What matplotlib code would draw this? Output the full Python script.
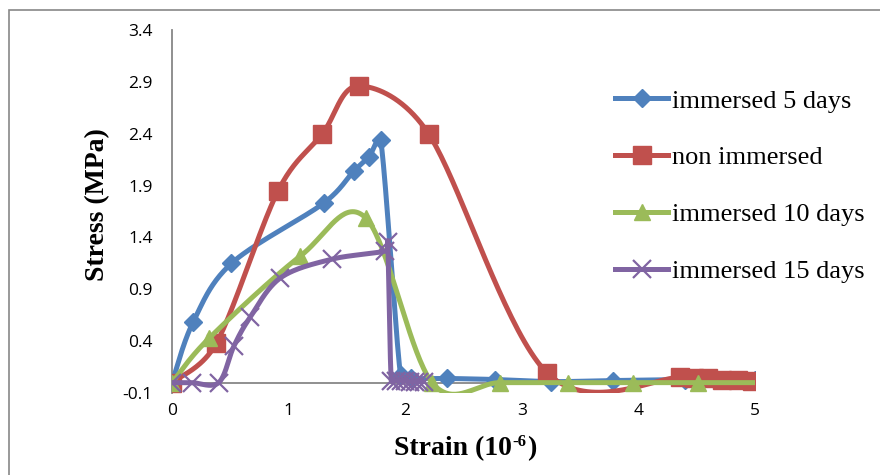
import numpy as np
import matplotlib
matplotlib.use("Agg")
import matplotlib.pyplot as plt
from matplotlib.patches import Rectangle

# ---------------- data ----------------
labels = ["immersed 5 days", "non immersed", "immersed 10 days", "immersed 15 days"]

x_5d = [0.0, 0.18, 0.51, 1.30, 1.56, 1.69, 1.79, 1.96, 2.05, 2.36, 2.77, 3.25, 3.78, 4.40, 5.00]
y_5d = [0.0, 0.58, 1.15, 1.73, 2.04, 2.18, 2.34, 0.07, 0.04, 0.04, 0.03, 0.01, 0.02, 0.03, 0.03]

x_non = [0.0, 0.38, 0.91, 1.29, 1.60, 2.20, 3.22, 4.36, 4.48, 4.60, 4.72, 4.85, 4.97]
y_non = [0.0, 0.38, 1.85, 2.40, 2.86, 2.40, 0.09, 0.05, 0.04, 0.04, 0.03, 0.03, 0.02]

x_10d = [0.0, 0.32, 1.10, 1.66, 2.23, 2.81, 3.40, 3.95, 4.51, 5.10]
y_10d = [0.0, 0.43, 1.22, 1.59, 0.0, 0.0, 0.0, 0.0, 0.0, 0.0]

x_15d = [0.0, 0.17, 0.40, 0.53, 0.67, 0.93, 1.37, 1.83, 1.85, 1.88, 1.92, 1.96, 2.00, 2.04, 2.08, 2.12, 2.16]
y_15d = [0.0, 0.0, 0.0, 0.35, 0.63, 1.01, 1.19, 1.27, 1.36, 0.02, 0.02, 0.02, 0.02, 0.01, 0.01, 0.01, 0.01]

x_ticks = [0, 1, 2, 3, 4, 5]
y_ticks = [-0.1, 0.4, 0.9, 1.4, 1.9, 2.4, 2.9, 3.4]

colors = ["#4F81BD", "#C0504D", "#9BBB59", "#8064A2"]

# pixel scale of the data units (used only to measure distances for smoothing)
SX, SY = 116.6, 103.7


def smooth(xs, ys, n=40):
    """Excel-like smoothed line: cubic Bezier, Catmull-Rom tangents,
    control offsets limited to half of the segment length."""
    p = np.column_stack([np.asarray(xs, float) * SX, np.asarray(ys, float) * SY])
    out = []
    for i in range(len(p) - 1):
        p0 = p[i - 1] if i > 0 else p[i]
        p1, p2 = p[i], p[i + 1]
        p3 = p[i + 2] if i + 2 < len(p) else p[i + 1]
        seg_len = np.hypot(*(p2 - p1))
        o1 = (p2 - p0) / 6.0
        o2 = (p3 - p1) / 6.0
        for o in (o1, o2):
            m = np.hypot(*o)
            if m > 0.5 * seg_len and m > 0:
                o *= 0.5 * seg_len / m
        c1 = p1 + o1
        c2 = p2 - o2
        t = np.linspace(0, 1, n)[:, None]
        seg = ((1 - t) ** 3) * p1 + 3 * ((1 - t) ** 2) * t * c1 + 3 * (1 - t) * t ** 2 * c2 + t ** 3 * p2
        out.append(seg if i == 0 else seg[1:])
    s = np.vstack(out)
    return s[:, 0] / SX, s[:, 1] / SY


fig = plt.figure(figsize=(8.8, 4.75), dpi=100)
fig.patch.set_facecolor("white")

# outer chart border
fig.patches.append(Rectangle((9 / 880, -0.2), 1.2, 1 - 10 / 475 + 0.2, transform=fig.transFigure,
                             fill=False, edgecolor="#878787", linewidth=1.2))

ax = fig.add_axes([172 / 880, 1 - 393 / 475, 583 / 880, 363 / 475])
ax.set_xlim(0, 5)
ax.set_ylim(-0.1, 3.4)

series = [
    (x_5d, y_5d, "D", 9.0, 1.0),
    (x_non, y_non, "s", 12.5, 1.0),
    (x_10d, y_10d, "^", 12.0, 1.0),
    (x_15d, y_15d, "x", 12.5, 1.6),
]

handles = []
for (xs, ys, mk, ms, mew), c, lab in zip(series, colors, labels):
    sx, sy = smooth(xs, ys)
    ax.plot(sx, sy, color=c, lw=3.6, solid_capstyle="butt", zorder=3)
    ax.plot(xs, ys, ls="none", marker=mk, ms=ms, mfc=c, mec=c, mew=mew, zorder=3)
    h, = ax.plot([], [], color=c, lw=3.6, marker=mk, ms=ms, mfc=c, mec=c, mew=mew)
    handles.append(h)

# axes styling
for s in ["top", "right", "bottom"]:
    ax.spines[s].set_visible(False)
ax.spines["left"].set_color("#878787")
ax.spines["left"].set_linewidth(1.3)
ax.axhline(0, color="#878787", lw=1.3, zorder=2)

ax.set_xticks(x_ticks)
ax.set_xticklabels([str(v) for v in x_ticks])
ax.set_yticks(y_ticks)
ax.set_yticklabels([f"{v:.1f}" for v in y_ticks])
ax.tick_params(axis="both", length=0, labelsize=12.5, labelcolor="black")
ax.tick_params(axis="y", pad=14)
ax.tick_params(axis="x", pad=7)
for t in ax.get_xticklabels() + ax.get_yticklabels():
    t.set_fontfamily("Open Sans")

fig.text(98 / 880, 1 - 205 / 475, "Stress (MPa)", rotation=90, ha="center", va="center",
         fontsize=20, fontweight="bold", family="Liberation Serif")

# x axis title with a small "-6" superscript, built from three text pieces
renderer = fig.canvas.get_renderer()
tfont = dict(fontsize=20, fontweight="bold", family="Liberation Serif", va="baseline", ha="left")
sfont = dict(fontsize=12, fontweight="bold", family="Liberation Serif", va="baseline", ha="left")
base_y = 1 - 455 / 475
p1 = fig.text(0, base_y, "Strain (10", **tfont)
p2 = fig.text(0, base_y + 9 / 475, "-6", **sfont)
p3 = fig.text(0, base_y, ")", **tfont)
w1 = p1.get_window_extent(renderer).width
w2 = p2.get_window_extent(renderer).width
w3 = p3.get_window_extent(renderer).width
x0 = 465 - (w1 + w2 + w3) / 2
p1.set_x(x0 / 880)
p2.set_x((x0 + w1 + 0.5) / 880)
p3.set_x((x0 + w1 + w2 + 1) / 880)

leg = ax.legend(handles, labels, loc="upper left", bbox_to_anchor=(602 / 880, 1 - 76 / 475),
                bbox_transform=fig.transFigure, frameon=False, borderpad=0,
                prop={"family": "Liberation Serif", "size": 19},
                handlelength=2.0, handletextpad=0.15, labelspacing=1.26)

fig.savefig("out.png", dpi=100, facecolor="white")
